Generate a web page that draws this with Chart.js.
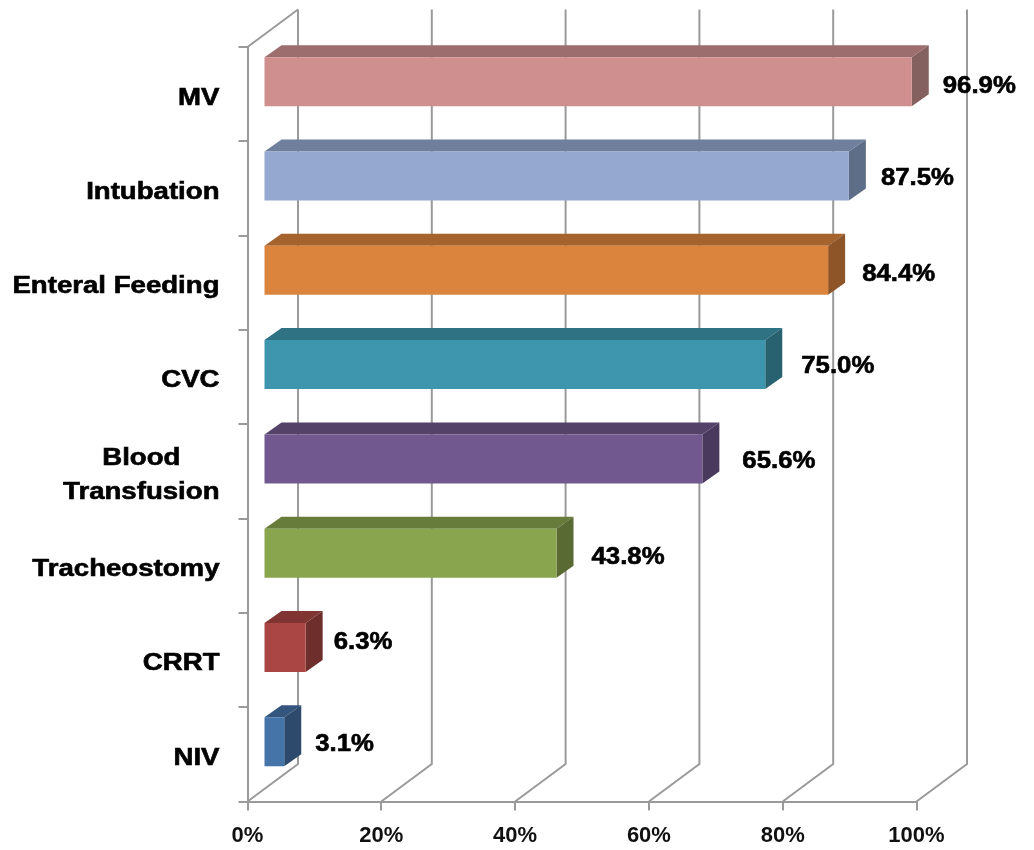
<!DOCTYPE html>
<html>
<head>
<meta charset="utf-8">
<style>
  html, body { margin: 0; padding: 0; background: #fff; }
  canvas { display: block; filter: blur(0.5px); }
</style>
<script src="https://cdn.jsdelivr.net/npm/chart.js@4"></script>
</head>
<body>
<canvas id="chart" width="1034" height="850"></canvas>
<script>
// data
const categories = ['MV', 'Intubation', 'Enteral Feeding', 'CVC', ['Blood', 'Transfusion'], 'Tracheostomy', 'CRRT', 'NIV'];
const values = [96.9, 87.5, 84.4, 75.0, 65.6, 43.8, 6.3, 3.1];
const xTicks = [0, 20, 40, 60, 80, 100];

// front, top and side colours of each bar
const frontColors = ['#CF8F8F', '#94A8D0', '#DB843D', '#3D96AE', '#71588F', '#89A54E', '#AA4643', '#4474A8'];
const topColors = ['#9C6F6E', '#6F7F9C', '#A5632E', '#2E7283', '#554269', '#677C3B', '#803532', '#34567E'];
const sideColors = ['#84605F', '#5F6E88', '#8E5528', '#286271', '#49395C', '#596B33', '#6E2E2B', '#2D4A6D'];

// the value labels were placed by hand in the original
const labelGaps = [31, 32, 34, 36, 40, 35, 28, 31];
const labelLifts = [5, 3, 4, 2, 3, 4, -5, 3];

const gridColor = '#9a9a9a';
const boldFont = 'bold 23px "Liberation Sans"';
const barShift = { x: 16, y: -12.5 };  // front face sits inside the box
const barDepth = { x: 17, y: -12 };
const wallDepth = { x: 50.5, y: -37.5 };

// the original text is stretched sideways and looks heavier than plain bold
function drawStretched(ctx, text, x, y, stretch, align) {
  ctx.save();
  ctx.translate(x, y);
  ctx.scale(stretch, 1);
  ctx.textAlign = align;
  ctx.fillText(text, 0, 0);
  ctx.strokeText(text, 0, 0);
  ctx.restore();
}

const fakeDepth = {
  id: 'fakeDepth',
  beforeDatasetsDraw(chart) {
    const { ctx, scales: { x, y } } = chart;
    ctx.save();
    ctx.strokeStyle = gridColor;
    ctx.lineWidth = 2;
    // back wall lines and floor lines
    xTicks.forEach(t => {
      const px = x.getPixelForValue(t);
      ctx.beginPath();
      ctx.moveTo(px, y.bottom);
      ctx.lineTo(px + wallDepth.x, y.bottom + wallDepth.y);
      ctx.lineTo(px + wallDepth.x, y.top + wallDepth.y);
      ctx.stroke();
    });
    ctx.beginPath();
    ctx.moveTo(x.left, y.top);
    ctx.lineTo(x.left + wallDepth.x, y.top + wallDepth.y);
    ctx.stroke();
    ctx.restore();

    // top and side faces, then leave the shift on for the front faces
    ctx.save();
    ctx.translate(barShift.x, barShift.y);
    chart.getDatasetMeta(0).data.forEach((bar, i) => {
      const top = bar.y - bar.height / 2;
      const bottom = bar.y + bar.height / 2;
      ctx.fillStyle = topColors[i];
      ctx.beginPath();
      ctx.moveTo(bar.base, top);
      ctx.lineTo(bar.base + barDepth.x, top + barDepth.y);
      ctx.lineTo(bar.x + barDepth.x, top + barDepth.y);
      ctx.lineTo(bar.x, top);
      ctx.closePath();
      ctx.fill();
      ctx.fillStyle = sideColors[i];
      ctx.beginPath();
      ctx.moveTo(bar.x, top);
      ctx.lineTo(bar.x + barDepth.x, top + barDepth.y);
      ctx.lineTo(bar.x + barDepth.x, bottom + barDepth.y);
      ctx.lineTo(bar.x, bottom);
      ctx.closePath();
      ctx.fill();
    });
  },
  afterDatasetsDraw(chart) {
    const { ctx, scales: { y } } = chart;
    ctx.restore();

    ctx.save();
    ctx.fillStyle = '#000';
    ctx.strokeStyle = '#000';
    ctx.lineWidth = 0.6;
    ctx.font = boldFont;
    ctx.textBaseline = 'middle';

    // value labels
    chart.getDatasetMeta(0).data.forEach((bar, i) => {
      drawStretched(ctx, values[i].toFixed(1) + '%', bar.x + barShift.x + labelGaps[i], bar.y + barShift.y + labelLifts[i], 1.12, 'left');
    });

    // category labels, the two line one is centred on itself
    const right = y.left + y.width - 28;
    const stretch = 1.2;
    categories.forEach((cat, i) => {
      const py = y.getPixelForValue(i);
      if (Array.isArray(cat)) {
        const w = Math.max(...cat.map(s => ctx.measureText(s).width)) * stretch;
        cat.forEach((s, n) => drawStretched(ctx, s, right - w / 2, py - 13 + n * 34, stretch, 'center'));
      } else {
        drawStretched(ctx, cat, right, py + 4, stretch, 'right');
      }
    });
    ctx.restore();
  }
};

new Chart(document.getElementById('chart').getContext('2d'), {
  type: 'bar',
  data: {
    labels: categories,
    datasets: [{
      data: values,
      backgroundColor: frontColors,
      borderWidth: 0,
      barPercentage: 0.52,
      categoryPercentage: 1,
      clip: false
    }]
  },
  options: {
    indexAxis: 'y',
    responsive: false,
    animation: false,
    layout: { padding: { top: 47, right: 117.5, left: 0, bottom: 0 } },
    plugins: { legend: { display: false }, tooltip: { enabled: false } },
    scales: {
      x: {
        min: 0,
        max: 100,
        afterBuildTicks(axis) { axis.ticks = xTicks.map(v => ({ value: v })); },
        afterFit(axis) { axis.height = 48.5; },
        grid: { drawOnChartArea: false, tickLength: 9, color: gridColor, lineWidth: 2 },
        border: { color: gridColor, width: 2 },
        ticks: {
          color: '#111',
          padding: 12,
          maxRotation: 0,
          font: { family: '"Liberation Sans"', weight: 'bold', size: 22 },
          callback: v => v + '%'
        }
      },
      y: {
        afterFit(axis) { axis.width = 247.5; },
        grid: { drawOnChartArea: false, tickLength: 9, color: gridColor, lineWidth: 2 },
        border: { color: gridColor, width: 2 },
        ticks: { display: false }
      }
    }
  },
  plugins: [fakeDepth]
});
</script>
</body>
</html>
